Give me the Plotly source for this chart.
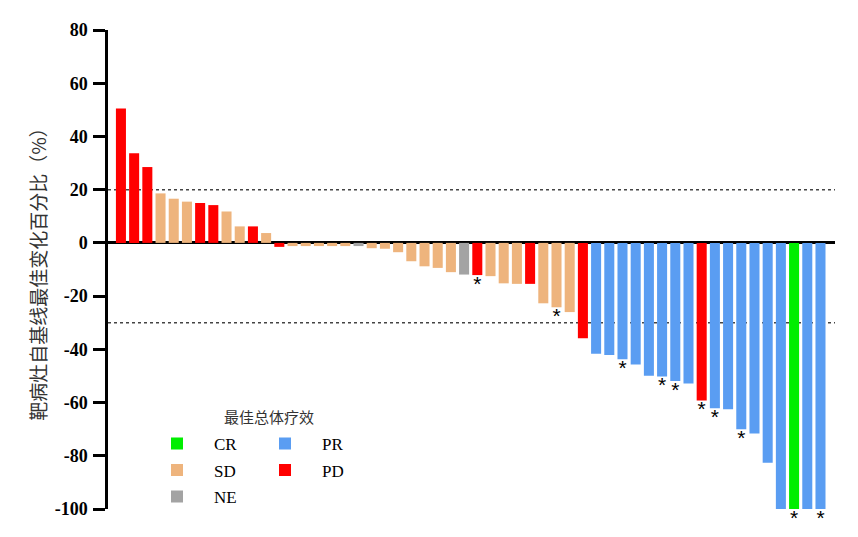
import plotly.graph_objects as go

# ---- data ----
responses = ["PD", "PD", "PD", "SD", "SD", "SD", "PD", "PD", "SD", "SD",
             "PD", "SD", "PD", "SD", "SD", "SD", "SD", "SD", "NE", "SD",
             "SD", "SD", "SD", "SD", "SD", "SD", "NE", "PD", "SD", "SD",
             "SD", "PD", "SD", "SD", "SD", "PD", "PR", "PR", "PR", "PR",
             "PR", "PR", "PR", "PR", "PD", "PR", "PR", "PR", "PR", "PR",
             "PR", "CR", "PR", "PR"]
changes = [50.5, 33.7, 28.5, 18.6, 16.6, 15.5, 15.0, 14.2, 11.8, 6.2,
           6.2, 3.7, -1.5, -1.2, -1.2, -1.2, -1.2, -1.2, -1.2, -2.0,
           -2.2, -3.5, -6.9, -8.8, -9.4, -11.0, -11.9, -12.1, -12.5, -15.2,
           -15.4, -15.4, -22.7, -24.2, -26.0, -35.8, -41.7, -42.1, -43.7, -45.7,
           -49.9, -50.2, -51.9, -52.8, -59.2, -62.1, -62.5, -70.0, -71.6, -82.6,
           -100.0, -100.0, -100.0, -100.0]
starred = [27, 33, 38, 41, 42, 44, 45, 47, 51, 53]   # patient positions marked with *
reference_lines = [20, -30]
y_ticks = [-100, -80, -60, -40, -20, 0, 20, 40, 60, 80]
y_tick_labels = ["-100", "-80", "-60", "-40", "-20", "0", "20", "40", "60", "80"]

categories = ["CR", "SD", "NE", "PR", "PD"]
colors = {"CR": "#00EE00", "SD": "#EEB47D", "NE": "#A3A3A3",
          "PR": "#5A9DF2", "PD": "#FF0000"}
legend_of = {"CR": "legend", "SD": "legend", "NE": "legend",
             "PR": "legend2", "PD": "legend2"}

serif = "Liberation Serif"
cjk = "Noto Sans CJK SC"

# page body has an 8px margin; plot area in window: x 108..835, y 25..509
L, T = 100, 17
PW, PH = 727, 484


def px_x(x):   # window x -> paper
    return (x - 108) / PW


def px_y(y):   # window y -> paper
    return (509 - y) / PH


fig = go.Figure()
idx = list(range(len(changes)))
for cat in categories:
    xs = [i for i in idx if responses[i] == cat]
    ys = [changes[i] for i in xs]
    fig.add_trace(go.Bar(
        x=xs, y=ys, name="\u00a0\u00a0\u00a0\u00a0" + cat, width=0.76,
        marker=dict(color=colors[cat], line=dict(width=0)),
        legend=legend_of[cat], legendgroup=cat, showlegend=True,
    ))

fig.add_trace(go.Scatter(
    x=starred, y=[changes[i] for i in starred], mode="text", text=["*"] * len(starred),
    textposition="bottom center", textfont=dict(size=21, color="black", family="Liberation Sans"),
    showlegend=False, cliponaxis=False, hoverinfo="skip",
))

for v in reference_lines:
    fig.add_shape(type="line", xref="paper", x0=0, x1=1, yref="y", y0=v, y1=v,
                  line=dict(color="#444444", width=1.5, dash="dot"), layer="below")

fig.update_layout(
    width=858, height=537,
    margin=dict(l=L, r=858 - (L + PW), t=T, b=537 - (T + PH)),
    plot_bgcolor="white", paper_bgcolor="white",
    barmode="overlay", bargap=0.24,
    showlegend=True,
    xaxis=dict(range=[-0.98, 54.1], visible=False, showgrid=False, zeroline=False),
    yaxis=dict(range=[-100, 80], tickvals=y_ticks, ticktext=y_tick_labels,
               ticks="outside", ticklen=12,
               tickwidth=2.5, tickcolor="black", showline=True, linewidth=2.5,
               linecolor="black", showgrid=False, zeroline=True, zerolinewidth=3,
               zerolinecolor="black", ticklabelstandoff=2,
               tickfont=dict(family=serif, size=18, color="black", weight="bold"),
               title=dict(text="靶病灶自基线最佳变化百分比（%）", standoff=4,
                          font=dict(family=cjk, size=19, color="#333333"))),
    legend=dict(x=px_x(157), xanchor="left", y=px_y(425), yanchor="top",
                font=dict(family=serif, size=17, color="black"),
                bgcolor="rgba(0,0,0,0)", tracegroupgap=1.5, itemclick=False),
    legend2=dict(x=px_x(265), xanchor="left", y=px_y(425), yanchor="top",
                 font=dict(family=serif, size=17, color="black"),
                 bgcolor="rgba(0,0,0,0)", tracegroupgap=1.5, itemclick=False),
    annotations=[dict(text="最佳总体疗效", xref="paper", yref="paper",
                      x=px_x(269), y=px_y(416),
                      xanchor="center", yanchor="middle", showarrow=False,
                      font=dict(family=cjk, size=15, color="#333333"))],
)

fig.write_html("out.html")
